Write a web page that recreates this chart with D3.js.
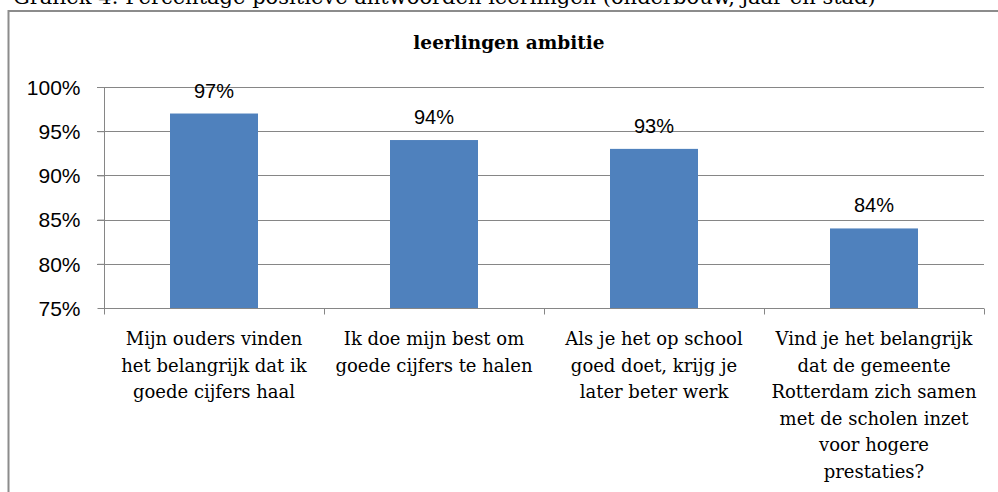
<!DOCTYPE html>
<html>
<head>
<meta charset="utf-8">
<script src="https://cdn.jsdelivr.net/npm/d3@7"></script>
<style>
  body { margin: 0; background: #fff; }
  svg { display: block; }
  .serif { font-family: "DejaVu Serif", "Liberation Serif", serif; }
  .sans { font-family: "Liberation Sans", Arial, sans-serif; }
</style>
</head>
<body>
<div id="vis"></div>
<script>
// values
const categories = [
  "Mijn ouders vinden\nhet belangrijk dat ik\ngoede cijfers haal",
  "Ik doe mijn best om\ngoede cijfers te halen",
  "Als je het op school\ngoed doet, krijg je\nlater beter werk",
  "Vind je het belangrijk\ndat de gemeente\nRotterdam zich samen\nmet de scholen inzet\nvoor hogere\nprestaties?"
];
const values = [97, 94, 93, 84];
const yTicks = [75, 80, 85, 90, 95, 100];
const chartTitle = "leerlingen ambitie";
const pageCaption = "Grafiek 4: Percentage positieve antwoorden leerlingen (onderbouw, jaar en stad)";

const W = 998, H = 492;
const svg = d3.select("#vis").append("svg").attr("width", W).attr("height", H);

// caption of the document, cut off at the top edge
svg.append("text")
  .attr("class", "serif")
  .attr("x", 13)
  .attr("y", 4)
  .attr("font-size", 21)
  .attr("fill", "#000")
  .text(pageCaption);

// chart frame (only left + top are in view)
svg.append("path")
  .attr("d", "M8.5,500 L8.5,11 L1000,11")
  .attr("fill", "none")
  .attr("stroke", "#8c8c8c")
  .attr("stroke-width", 2);

svg.append("text")
  .attr("class", "serif")
  .attr("x", 509)
  .attr("y", 49)
  .attr("text-anchor", "middle")
  .attr("font-size", 18.5)
  .attr("font-weight", "bold")
  .text(chartTitle);

const x = d3.scaleBand().domain(categories).range([104, 984]).paddingInner(0.6).paddingOuter(0.3);
const xEdges = d3.scaleBand().domain(categories).range([104, 984]);
const y = d3.scaleLinear().domain([75, 100]).range([308, 87]);

// gridlines
svg.append("g")
  .selectAll("line")
  .data(yTicks.filter(d => d > 75))
  .join("line")
  .attr("x1", 97)
  .attr("x2", 984)
  .attr("y1", d => Math.round(y(d)) + 0.5)
  .attr("y2", d => Math.round(y(d)) + 0.5)
  .attr("stroke", "#868686");

// y axis
const yAxis = svg.append("g")
  .attr("transform", "translate(104.5,0)")
  .call(d3.axisLeft(y).tickValues(yTicks).tickSize(7).tickFormat(d => d + "%"));
yAxis.select(".domain").attr("stroke", "#868686").attr("d", "M0," + y(100) + "V" + (y(75) + 0.5));
yAxis.selectAll(".tick line").attr("stroke", "#868686");
yAxis.selectAll(".tick text")
  .attr("class", "sans")
  .attr("font-size", 21)
  .attr("fill", "#000")
  .attr("x", -24)
  .attr("dy", "0.35em");

// bars
svg.append("g")
  .selectAll("rect")
  .data(values)
  .join("rect")
  .attr("x", (d, i) => x(categories[i]))
  .attr("y", d => y(d))
  .attr("width", x.bandwidth())
  .attr("height", d => y(75) - y(d))
  .attr("fill", "#4f81bd");

// data labels
svg.append("g")
  .selectAll("text")
  .data(values)
  .join("text")
  .attr("class", "sans")
  .attr("x", (d, i) => x(categories[i]) + x.bandwidth() / 2)
  .attr("y", d => y(d) - 16)
  .attr("text-anchor", "middle")
  .attr("font-size", 20)
  .text(d => d + "%");

// x axis
const xb = Math.round(y(75)) + 0.5;
svg.append("line")
  .attr("x1", 104).attr("x2", 984)
  .attr("y1", xb).attr("y2", xb)
  .attr("stroke", "#868686");
svg.append("g")
  .selectAll("line")
  .data(categories.map(c => xEdges(c)).concat([984]))
  .join("line")
  .attr("x1", d => Math.round(d) + 0.5)
  .attr("x2", d => Math.round(d) + 0.5)
  .attr("y1", xb)
  .attr("y2", xb + 6)
  .attr("stroke", "#868686");

// category labels
const cat = svg.append("g")
  .selectAll("text")
  .data(categories)
  .join("text")
  .attr("class", "serif")
  .attr("font-size", 18)
  .attr("text-anchor", "middle")
  .attr("x", d => xEdges(d) + xEdges.bandwidth() / 2)
  .attr("y", 345);
cat.selectAll("tspan")
  .data(d => d.split("\n").map(t => [t, d]))
  .join("tspan")
  .attr("x", d => xEdges(d[1]) + xEdges.bandwidth() / 2)
  .attr("dy", (d, i) => i === 0 ? 0 : 26.5)
  .text(d => d[0]);
</script>
</body>
</html>
